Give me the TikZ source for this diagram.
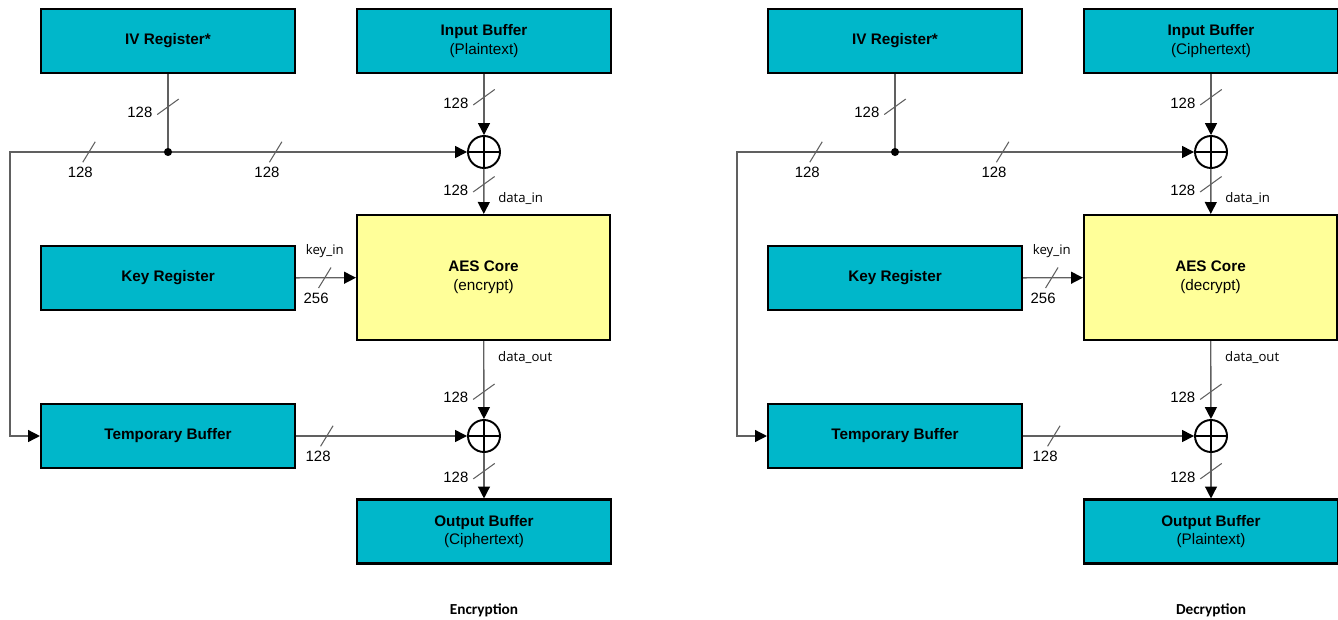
\documentclass[tikz,border=0pt]{standalone}
\usepackage{fontspec}
\setmainfont{Liberation Sans}
\newfontfamily\sigfont{Open Sans}
\newfontfamily\capfont{Carlito}
\usepackage{tikz}
\usetikzlibrary{positioning,arrows.meta}
\definecolor{regfill}{HTML}{00B7CA}
\definecolor{corefill}{HTML}{FFFF99}
\definecolor{wirecol}{HTML}{606060}

\begin{document}
\begin{tikzpicture}[x=0.02cm,y=-0.02cm,every node/.style={font=\fontsize{8.7}{10.6}\selectfont},
    vslash/.style={inner sep=0pt,minimum width=0.5cm,minimum height=0.38cm,
      path picture={\draw[-,wirecol,line width=0.6pt]
        ([shift={(1pt,1pt)}]path picture bounding box.south west) --
        ([shift={(-1pt,-1pt)}]path picture bounding box.north east);},
      label={[bus,anchor=east,yshift=2.5pt]south west:#1}},
    hslash/.style={inner sep=0pt,minimum width=0.32cm,minimum height=0.48cm,
      path picture={\draw[-,wirecol,line width=0.6pt]
        ([shift={(1pt,1pt)}]path picture bounding box.south west) --
        ([shift={(-1pt,-1pt)}]path picture bounding box.north east);},
      label={[bus,anchor=north]south west:#1}}]
  \tikzstyle{reg}=[draw,line width=1.2pt,fill=regfill,minimum width=5.08cm,minimum height=1.28cm,
                   align=center,inner sep=0pt];
  \tikzstyle{core}=[reg,fill=corefill,minimum width=5.06cm,minimum height=2.5cm];
  \tikzstyle{xorgate}=[circle,draw,line width=1.1pt,minimum size=0.64cm,inner sep=0pt,
                   path picture={\draw[-,line width=1.1pt]
                     (path picture bounding box.north) -- (path picture bounding box.south)
                     (path picture bounding box.west) -- (path picture bounding box.east);}];
  \tikzstyle{wire}=[draw=wirecol,line width=0.8pt];
  \tikzstyle{arr}=[wire,-{Triangle[length=6.8pt,width=6.8pt,color=black]}];
  \tikzstyle{bus}=[inner sep=1pt,font=\fontsize{8.5}{10}\selectfont];
  \tikzstyle{sig}=[inner sep=1pt,font=\sigfont\fontsize{7.5}{9}\selectfont];
  \tikzstyle{caption}=[font=\capfont\bfseries\fontsize{8.7}{10}\selectfont];
  \useasboundingbox (0,0) rectangle (1338,619);

  \foreach \dx/\mode/\src/\dst/\ttl in {0/encrypt/Plaintext/Ciphertext/Encryption,
                                        727/decrypt/Ciphertext/Plaintext/Decryption}{
  \begin{scope}[shift={(\dx,0)}]
    % blocks
    \node[reg]  (iv)     at (168,41)      {\textbf{IV Register*}};
    \node[reg]  (inbuf)  at (484,41)      {\textbf{Input Buffer}\\(\src)};
    \node[reg]  (key)    at (168,278)     {\textbf{Key Register}};
    \node[core] (aes)    at (483.5,277.5) {\textbf{AES Core}\\(\mode)};
    \node[reg]  (tmp)    at (168,436)     {\textbf{Temporary Buffer}};
    \node[reg]  (outbuf) at (484,531.5)   {\textbf{Output Buffer}\\(\dst)};
    \node[xorgate] (xin)  at (484,152) {};
    \node[xorgate] (xout) at (484,436) {};
    \coordinate (split) at (168,152);
    \coordinate (fb)    at (10,152);
    \node[caption] (cap) at (484,610) {\ttl};
    % buses
    \draw[wire] (iv) -- node[vslash=128,pos=0.42]{} (split);
    \draw[arr] (split) -- node[hslash=128,pos=0.5]{} (fb) |- (tmp);
    \draw[arr] (split) -- node[hslash=128,pos=0.36]{} (xin);
    \fill[black] (split) circle (2.3pt);
    \draw[arr] (inbuf) -- node[vslash=128,pos=0.38]{} (xin);
    \draw[arr] (xin) -- node[vslash=128,pos=0.34]{}
                        node[sig,right=0.24cm,pos=0.66]{data\_in} (aes);
    \draw[arr] (key) -- node[hslash=256,pos=0.48,
                         label={[sig,yshift=3pt]above:key\_in}]{} (aes);
    \draw[arr] (aes) -- node[sig,right=0.24cm,pos=0.21]{data\_out}
                        node[vslash=128,pos=0.65]{} (xout);
    \draw[arr] (tmp) -- node[hslash=128,pos=0.18]{} (xout);
    \draw[arr] (xout) -- node[vslash=128,pos=0.4]{} (outbuf);
  \end{scope}}
\end{tikzpicture}
\end{document}
